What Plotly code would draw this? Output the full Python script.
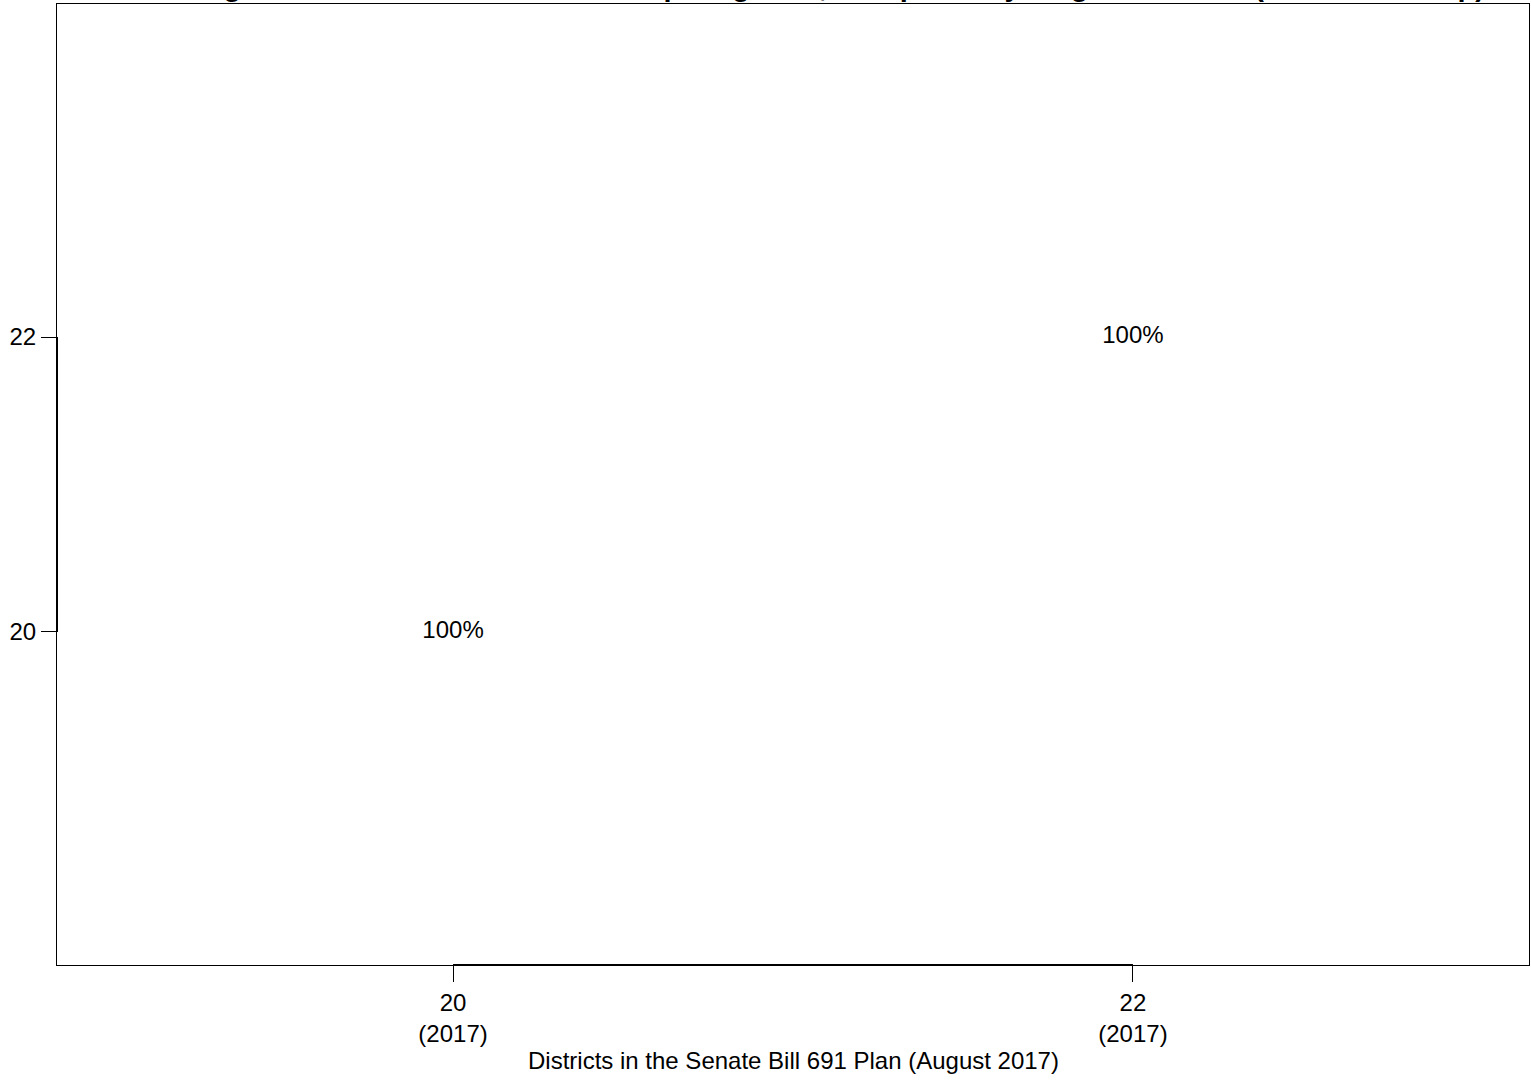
import plotly.graph_objects as go

# ---- data ----
x_districts = [20, 22]
y_districts = [20, 22]
share_labels = ["100%", "100%"]
x_tick_vals = [20, 22]
x_tick_text = ["20<br>(2017)", "22<br>(2017)"]
y_tick_vals = [20, 22]
y_tick_text = ["20", "22"]
title_text = "Percentage of 2011 District Residents Kept Together, Compared by Original District (Senate Overlap)"
x_title = "Districts in the Senate Bill 691 Plan (August 2017)"

FONT = "Liberation Sans, Arial, Helvetica, sans-serif"

fig = go.Figure(
    go.Scatter(
        x=x_districts,
        y=y_districts,
        mode="text",
        text=share_labels,
        textposition="middle center",
        textfont=dict(family=FONT, size=24, color="black"),
        hoverinfo="skip",
        showlegend=False,
    )
)

axis_common = dict(
    showgrid=False,
    zeroline=False,
    showline=True,
    mirror=True,
    linecolor="black",
    linewidth=1,
    ticks="outside",
    tickcolor="black",
    tickwidth=1,
    tickfont=dict(family=FONT, size=24, color="black"),
)

fig.update_xaxes(
    range=[18.835, 23.165],
    tickvals=x_tick_vals,
    ticktext=x_tick_text,
    ticklen=16,
    **axis_common,
)
fig.update_yaxes(
    range=[17.742, 24.258],
    tickvals=y_tick_vals,
    ticktext=y_tick_text,
    ticklen=15,
    **axis_common,
)

# thicker axis segments between first and last tick (R-style axis lines)
fig.add_shape(type="line", xref="x", yref="paper",
              x0=x_tick_vals[0], x1=x_tick_vals[-1], y0=0, y1=0,
              line=dict(color="black", width=2))
fig.add_shape(type="line", xref="paper", yref="y",
              x0=0, x1=0, y0=y_tick_vals[0], y1=y_tick_vals[-1],
              line=dict(color="black", width=2))

fig.add_annotation(
    text=x_title, xref="paper", yref="paper", x=0.5, y=0,
    yanchor="middle", yshift=-95, showarrow=False,
    font=dict(family=FONT, size=24, color="black"),
)
fig.add_annotation(
    text="<b>" + title_text + "</b>", xref="paper", yref="paper", x=0.5, y=1,
    yanchor="bottom", yshift=0, showarrow=False,
    font=dict(family=FONT, size=29, color="black"),
)

fig.update_layout(
    width=1531,
    height=1083,
    margin=dict(l=57, r=2, t=4, b=118),
    paper_bgcolor="white",
    plot_bgcolor="white",
)

fig.write_html("out.html", config={"displayModeBar": False},
               post_script="document.body.style.margin='0';")
